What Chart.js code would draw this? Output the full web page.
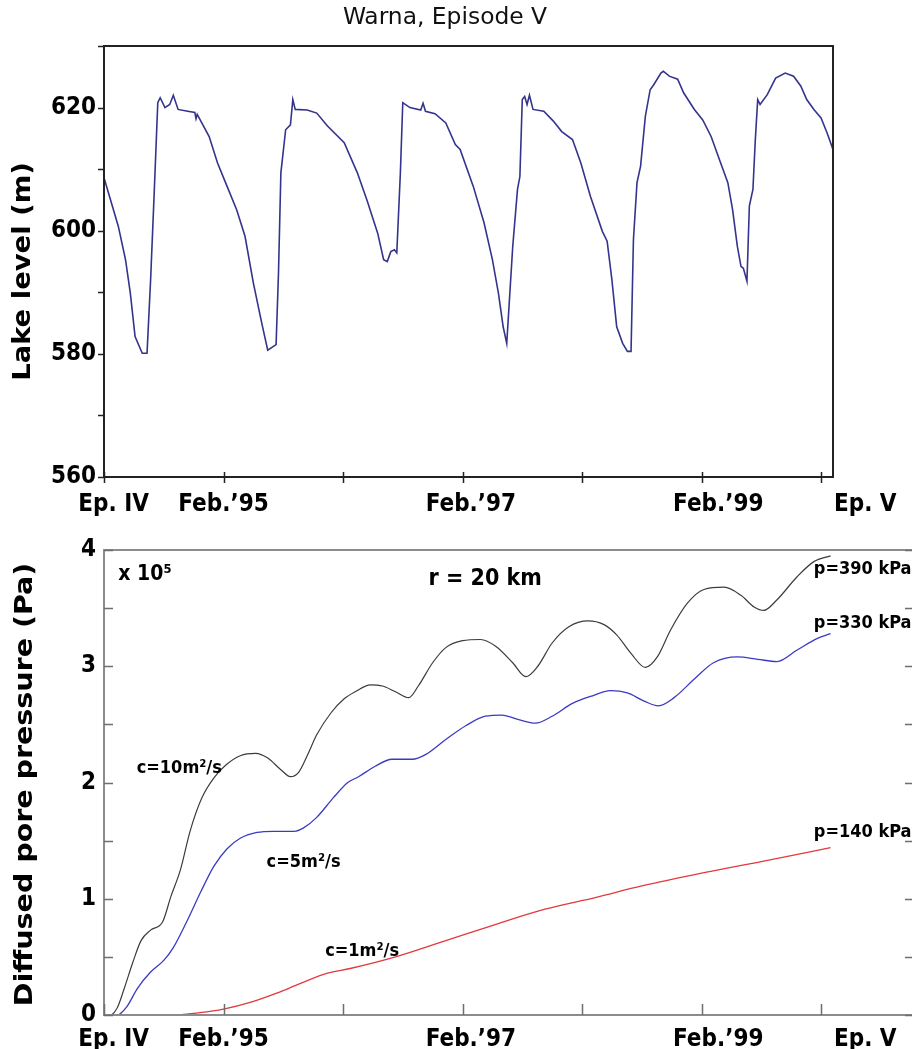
<!DOCTYPE html>
<html>
<head>
<meta charset="utf-8">
<script src="https://cdn.jsdelivr.net/npm/chart.js@4.4.1/dist/chart.umd.min.js"></script>
<style>
  html, body { margin: 0; padding: 0; background: #fff; overflow: hidden; }
  #wrap { position: relative; width: 912px; height: 1049px; overflow: hidden; }
  #levelChart { position: absolute; left: 0; top: 0; }
  #pressureChart { position: absolute; left: 0; top: 530px; }
</style>
</head>
<body>
<div id="wrap">
  <canvas id="levelChart" width="912" height="530"></canvas>
  <canvas id="pressureChart" width="916" height="519"></canvas>
</div>
<script>
// x values are years counted from Ep. IV (tick every year, Feb. to Feb.)
const xTickLabels = ["Ep. IV", "Feb.\u201995", "Feb.\u201997", "Feb.\u201999", "Ep. V"];
const xTickLabelAt = [0.08, 1.0, 3.07, 5.14, 6.37];

// Warna lake level (m)
const levelYears = [
  0.00, 0.05, 0.12, 0.18, 0.22, 0.26, 0.32, 0.36, 0.39, 0.42, 0.45, 0.47, 0.51, 0.55, 0.58, 0.62,
  0.70, 0.76, 0.77, 0.78, 0.88, 0.95, 1.03, 1.11, 1.18, 1.25, 1.32, 1.37, 1.44, 1.46, 1.48, 1.52,
  1.56, 1.58, 1.60, 1.70, 1.78, 1.87, 2.01, 2.12, 2.20, 2.29, 2.34, 2.37, 2.40, 2.43, 2.45, 2.48,
  2.50, 2.56, 2.65, 2.67, 2.69, 2.77, 2.86, 2.94, 2.98, 3.09, 3.18, 3.25, 3.30, 3.34, 3.37, 3.42,
  3.46, 3.48, 3.50, 3.52, 3.54, 3.56, 3.59, 3.68, 3.76, 3.83, 3.92, 3.99, 4.07, 4.17, 4.21, 4.25,
  4.29, 4.34, 4.38, 4.41, 4.43, 4.46, 4.49, 4.53, 4.57, 4.60, 4.66, 4.68, 4.73, 4.80, 4.85, 4.94,
  5.01, 5.08, 5.16, 5.22, 5.26, 5.30, 5.33, 5.35, 5.38, 5.40, 5.43, 5.45, 5.47, 5.49, 5.55, 5.62,
  5.70, 5.77, 5.83, 5.88, 5.94, 6.00, 6.05, 6.10
];
const levelValues = [
  608.6, 605.3, 600.7, 595.3, 589.9, 582.8, 580.1, 580.1, 592.0, 606.1, 620.8, 621.6, 620.0, 620.5, 622.0, 619.7,
  619.4, 619.2, 618.2, 618.9, 615.3, 611.0, 607.2, 603.4, 599.1, 591.5, 585.0, 580.6, 581.5, 593.1, 609.4, 616.4,
  617.2, 621.3, 619.7, 619.6, 619.1, 617.0, 614.3, 609.4, 605.0, 599.6, 595.3, 595.0, 596.6, 596.9, 596.4, 609.4,
  620.8, 620.0, 619.6, 620.7, 619.4, 619.0, 617.5, 614.0, 613.2, 607.2, 601.3, 595.3, 589.9, 584.4, 581.7, 597.4,
  606.7, 608.8, 621.3, 621.8, 620.5, 622.0, 619.7, 619.4, 617.8, 616.1, 614.8, 611.0, 605.6, 599.9, 598.3, 592.0,
  584.4, 581.7, 580.4, 580.4, 598.5, 607.8, 610.5, 618.6, 622.9, 623.7, 625.6, 625.9, 625.1, 624.6, 622.4, 619.7,
  618.0, 615.3, 611.0, 607.8, 603.4, 597.4, 594.2, 593.9, 591.8, 604.0, 606.7, 614.8, 621.3, 620.5, 622.1, 624.8,
  625.6, 625.1, 623.5, 621.3, 619.7, 618.3, 615.9, 613.2
];

// diffused pore pressure (x 10^5 Pa), three diffusivities
const c10Years = [0.00, 0.05, 0.11, 0.17, 0.24, 0.31, 0.39, 0.49, 0.56, 0.64, 0.72, 0.82, 0.92, 1.02, 1.14, 1.27,
  1.37, 1.48, 1.56, 1.63, 1.70, 1.78, 1.90, 2.01, 2.10, 2.23, 2.33, 2.44, 2.55, 2.63, 2.75, 2.86,
  3.00, 3.15, 3.28, 3.42, 3.53, 3.63, 3.75, 3.89, 4.05, 4.18, 4.29, 4.41, 4.53, 4.63, 4.74, 4.88,
  5.02, 5.19, 5.33, 5.44, 5.52, 5.63, 5.80, 5.94, 6.08];
const c10Values = [0, 0, 0.06, 0.23, 0.45, 0.64, 0.73, 0.80, 1.02, 1.25, 1.58, 1.87, 2.04, 2.15, 2.23, 2.25,
  2.21, 2.11, 2.05, 2.09, 2.23, 2.41, 2.60, 2.72, 2.78, 2.84, 2.83, 2.78, 2.73, 2.83, 3.03, 3.16,
  3.22, 3.23, 3.17, 3.03, 2.91, 3.00, 3.20, 3.34, 3.39, 3.36, 3.27, 3.11, 2.99, 3.08, 3.31, 3.54,
  3.66, 3.68, 3.61, 3.51, 3.48, 3.57, 3.77, 3.90, 3.95];

const c5Years = [0.00, 0.11, 0.19, 0.28, 0.39, 0.50, 0.58, 0.70, 0.81, 0.92, 1.03, 1.14, 1.28, 1.42, 1.59, 1.67,
  1.78, 1.92, 2.04, 2.13, 2.27, 2.41, 2.58, 2.69, 2.86, 3.03, 3.19, 3.33, 3.47, 3.61, 3.75, 3.92,
  4.07, 4.24, 4.38, 4.52, 4.64, 4.77, 4.94, 5.10, 5.30, 5.47, 5.63, 5.80, 5.97, 6.08];
const c5Values = [0, 0, 0.07, 0.23, 0.37, 0.47, 0.58, 0.82, 1.06, 1.28, 1.43, 1.52, 1.57, 1.58, 1.58, 1.61,
  1.70, 1.87, 2.00, 2.05, 2.14, 2.20, 2.20, 2.24, 2.37, 2.49, 2.57, 2.58, 2.54, 2.51, 2.57, 2.68,
  2.74, 2.79, 2.77, 2.70, 2.66, 2.73, 2.89, 3.03, 3.08, 3.06, 3.04, 3.14, 3.24, 3.28];

const c1Years = [0.00, 0.56, 0.80, 1.00, 1.23, 1.45, 1.64, 1.87, 2.06, 2.44, 2.86, 3.28, 3.69, 4.11, 4.50, 5.00, 5.50, 6.08];
const c1Values = [0, 0, 0.02, 0.05, 0.11, 0.19, 0.27, 0.36, 0.40, 0.50, 0.64, 0.78, 0.91, 1.01, 1.11, 1.22, 1.32, 1.44];

const FONT = '"DejaVu Sans Condensed", "DejaVu Sans", sans-serif';

function pts(xs, ys) {
  return xs.map((x, i) => ({ x: x, y: ys[i] }));
}

// text a bit wider than the font gives (the figure's lettering is broad)
function wideText(ctx, txt, x, y, stretch, rotate) {
  ctx.save();
  ctx.translate(x, y);
  if (rotate) ctx.rotate(-Math.PI / 2);
  ctx.scale(stretch, 1);
  ctx.fillText(txt, 0, 0);
  ctx.restore();
}

// frame, tick marks, bottom labels, axis title and in-plot notes
const decorPlugin = {
  id: 'decor',
  afterDraw(chart, args, o) {
    const ctx = chart.ctx;
    const a = chart.chartArea;
    const xs = chart.scales.x;
    const ys = chart.scales.y;
    ctx.save();
    ctx.strokeStyle = o.frameColor;
    ctx.lineWidth = o.frameWidth;
    ctx.strokeRect(a.left, a.top, a.right - a.left, a.bottom - a.top);

    ctx.strokeStyle = o.tickColor;
    ctx.lineWidth = 1.5;
    ctx.beginPath();
    xs.ticks.forEach((t) => {
      const px = Math.round(xs.getPixelForValue(t.value)) + 0.5;
      ctx.moveTo(px, a.bottom + o.xOut);
      ctx.lineTo(px, a.bottom - o.xIn);
    });
    ys.ticks.forEach((t) => {
      const py = Math.round(ys.getPixelForValue(t.value)) + 0.5;
      ctx.moveTo(a.left - o.yOut, py);
      ctx.lineTo(a.left + o.yIn, py);
      if (o.rightTicks) {
        ctx.moveTo(a.right, py);
        ctx.lineTo(a.right - o.yIn, py);
      }
    });
    ctx.stroke();

    ctx.fillStyle = '#000';
    ctx.font = 'bold 24px ' + FONT;
    ctx.textAlign = 'center';
    ctx.textBaseline = 'alphabetic';
    xTickLabels.forEach((txt, i) => {
      ctx.fillText(txt, xs.getPixelForValue(xTickLabelAt[i]), a.bottom + o.labelDrop);
    });

    // y axis title, centred on the plot height
    ctx.font = 'bold 24px ' + FONT;
    ctx.textBaseline = 'middle';
    wideText(ctx, o.yTitle, o.yTitleX, (a.top + a.bottom) / 2 + o.yTitleShift, o.yTitleStretch, true);

    if (o.title) {
      ctx.fillStyle = '#111';
      ctx.font = 'normal 23px ' + FONT;
      ctx.textBaseline = 'alphabetic';
      wideText(ctx, o.title, o.titleX, o.titleY, 1.13, false);
    }

    ctx.fillStyle = '#000';
    ctx.textBaseline = 'alphabetic';
    (o.notes || []).forEach((n) => {
      ctx.font = 'bold ' + n.size + 'px ' + FONT;
      ctx.textAlign = n.align;
      ctx.fillText(n.text, xs.getPixelForValue(n.x), ys.getPixelForValue(n.y));
    });
    ctx.restore();
  }
};

const tickFont = { family: FONT, size: 24, weight: 'bold' };

// top chart: lake level
new Chart(document.getElementById('levelChart').getContext('2d'), {
  type: 'line',
  data: {
    datasets: [{
      data: pts(levelYears, levelValues),
      borderColor: '#34348c',
      borderWidth: 1.6,
      pointRadius: 0,
      tension: 0,
      fill: false
    }]
  },
  plugins: [decorPlugin],
  options: {
    responsive: false,
    animation: false,
    layout: { padding: { top: 46, right: 79, bottom: 0, left: 0 } },
    plugins: {
      legend: { display: false },
      tooltip: { enabled: false },
      decor: {
        frameColor: '#222', frameWidth: 2, tickColor: '#222',
        xOut: 6, xIn: 5, yOut: 6, yIn: 0, rightTicks: false,
        labelDrop: 34,
        yTitle: 'Lake level (m)', yTitleX: 24, yTitleShift: 10, yTitleStretch: 1.27,
        title: 'Warna, Episode V', titleX: 445, titleY: 24
      }
    },
    scales: {
      x: {
        type: 'linear', min: 0, max: 6.10,
        afterFit: (s) => { s.height = 53; },
        grid: { display: false },
        border: { display: false },
        ticks: { stepSize: 1, includeBounds: false, display: false }
      },
      y: {
        min: 560, max: 630,
        afterFit: (s) => { s.width = 104; },
        grid: { display: false },
        border: { display: false },
        ticks: {
          stepSize: 10, color: '#000', font: tickFont, padding: 0,
          callback: (v) => (v % 20 === 0 ? String(v) : '')
        }
      }
    }
  }
});

// bottom chart: diffused pore pressure
new Chart(document.getElementById('pressureChart').getContext('2d'), {
  type: 'line',
  data: {
    datasets: [
      { data: pts(c10Years, c10Values), borderColor: '#3c3c3c', borderWidth: 1.2 },
      { data: pts(c5Years, c5Values), borderColor: '#3a3ac4', borderWidth: 1.3 },
      { data: pts(c1Years, c1Values), borderColor: '#e2393e', borderWidth: 1.3 }
    ].map((d) => Object.assign(d, { pointRadius: 0, fill: false, cubicInterpolationMode: 'monotone' }))
  },
  plugins: [decorPlugin],
  options: {
    responsive: false,
    animation: false,
    layout: { padding: { top: 20, right: 2, bottom: 0, left: 0 } },
    plugins: {
      legend: { display: false },
      tooltip: { enabled: false },
      decor: {
        frameColor: '#8c8c8c', frameWidth: 2, tickColor: '#6e6e6e',
        xOut: 0, xIn: 11, yOut: 0, yIn: 9, rightTicks: true,
        labelDrop: 31,
        yTitle: 'Diffused pore pressure (Pa)', yTitleX: 26, yTitleShift: 2, yTitleStretch: 1.32,
        notes: [
          { text: 'x 10\u2075', x: 0.12, y: 3.74, align: 'left', size: 21 },
          { text: 'r = 20 km', x: 3.19, y: 3.70, align: 'center', size: 23 },
          { text: 'c=10m\u00b2/s', x: 0.63, y: 2.08, align: 'center', size: 18 },
          { text: 'c=5m\u00b2/s', x: 1.67, y: 1.27, align: 'center', size: 18 },
          { text: 'c=1m\u00b2/s', x: 2.16, y: 0.51, align: 'center', size: 18 },
          { text: 'p=390 kPa', x: 5.94, y: 3.79, align: 'left', size: 18 },
          { text: 'p=330 kPa', x: 5.94, y: 3.33, align: 'left', size: 18 },
          { text: 'p=140 kPa', x: 5.94, y: 1.53, align: 'left', size: 18 }
        ]
      }
    },
    scales: {
      x: {
        type: 'linear', min: 0, max: 6.778,
        afterFit: (s) => { s.height = 34; },
        grid: { display: false },
        border: { display: false },
        ticks: { stepSize: 1, includeBounds: false, display: false }
      },
      y: {
        min: 0, max: 4,
        afterFit: (s) => { s.width = 104; },
        grid: { display: false },
        border: { display: false },
        ticks: {
          stepSize: 0.5, color: '#000', font: tickFont, padding: 0,
          callback: (v) => (Number.isInteger(v) ? String(v) : '')
        }
      }
    }
  }
});
</script>
</body>
</html>
